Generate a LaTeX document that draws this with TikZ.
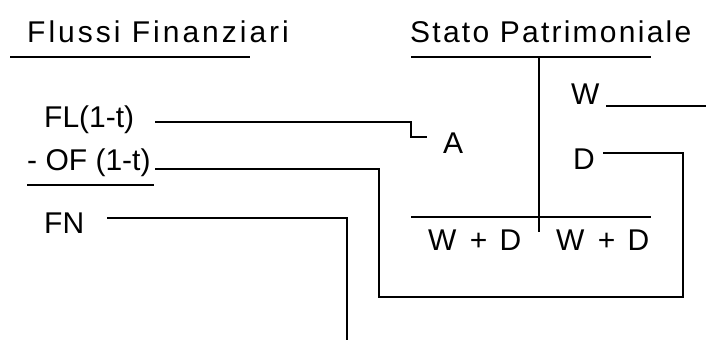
\documentclass[tikz,border=0pt]{standalone}
\usepackage{fontspec}
\setmainfont{Liberation Sans}
\newfontfamily\widefont{Liberation Sans}[LetterSpace=10]
\newfontfamily\semiwidefont{Liberation Sans}[LetterSpace=7.5]
\begin{document}
\begin{tikzpicture}[x=1pt, y=-1pt,
  txt/.style={inner sep=0pt, anchor=base west, font=\fontsize{30}{36}\selectfont},
  wtxt/.style={inner sep=0pt, anchor=base west, font=\fontsize{30}{36}\widefont},
  swtxt/.style={inner sep=0pt, anchor=base west, font=\fontsize{30}{36}\semiwidefont},
  rule/.style={line width=2.5pt},
  wire/.style={line width=2.5pt, line join=miter}]
\useasboundingbox (0,0) rectangle (706,340);

% headings
\node[wtxt] (ff) at (27,42) {Flussi Finanziari};
\node[swtxt] (sp) at (410,42) {Stato Patrimoniale};

% cash-flow items
\node[txt] (fl) at (44,127) {FL(1-t)};
\node[txt] (of) at (27,170) {- OF (1-t)};
\node[txt] (fn) at (44,233) {FN};

% balance-sheet items
\node[txt] (a) at (443,153) {A};
\node[txt] (w) at (571,104) {W};
\node[txt] (d) at (573,169) {D};
\node[wtxt] (wdl) at (428,250) {W\hspace{2pt} + \hspace{1pt}D};
\node[wtxt] (wdr) at (556,250) {W\hspace{2pt} + \hspace{1pt}D};

% rules of the two tables
\coordinate (ffL) at (10,57);   \coordinate (ffR) at (250,57);
\coordinate (spL) at (411,57);  \coordinate (spR) at (651,57);
\coordinate (spT) at (539,57);  \coordinate (spB) at (539,232);
\coordinate (totL) at (411,217); \coordinate (totR) at (651,217);
\coordinate (sumL) at (27,185); \coordinate (sumR) at (154,185);
\draw[rule] (ffL) -- (ffR);
\draw[rule] (spL) -- (spR);
\draw[rule] (spT) -- (spB);
\draw[rule] (totL) -- (totR);
\draw[rule] (sumL) -- (sumR);

% connectors
\coordinate (flS) at (155,122);
\coordinate (flK) at (411,137);
\coordinate (aE) at (427,137);
\draw[wire] (flS) -| (flK) -- (aE);

\coordinate (ofS) at (155,169);
\coordinate (ofK) at (379,297);
\coordinate (dK) at (683,153);
\coordinate (dE) at (603,153);
\draw[wire] (ofS) -| (ofK) -| (dK) -- (dE);

\coordinate (wS) at (606,106);
\coordinate (wE) at (706,106);
\draw[wire] (wS) -- (wE);

\coordinate (fnS) at (107,218);
\coordinate (fnE) at (347,340);
\draw[wire] (fnS) -| (fnE);
\end{tikzpicture}
\end{document}
